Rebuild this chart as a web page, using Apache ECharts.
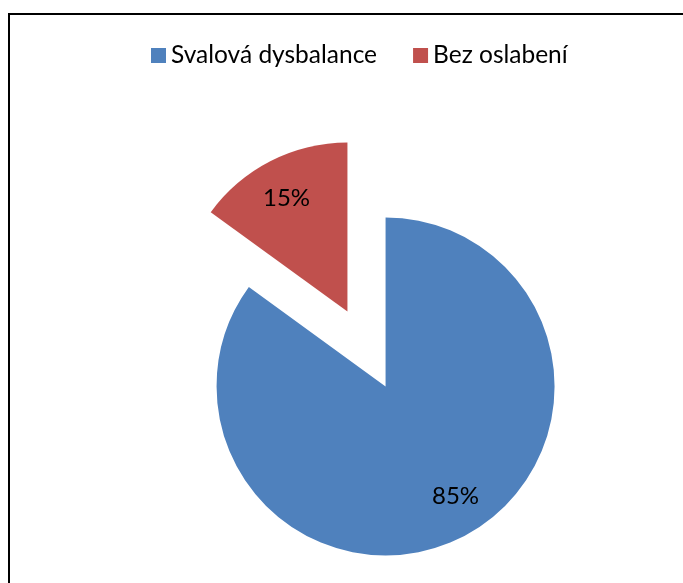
<!DOCTYPE html>
<html>
<head>
<meta charset="utf-8">
<script src="https://cdn.jsdelivr.net/npm/echarts@6/dist/echarts.min.js"></script>
<style>
html,body{margin:0;padding:0;background:#fff;}
#chart{width:683px;height:583px;}
</style>
</head>
<body>
<div id="chart"></div>
<script>
var categories = ['Svalová dysbalance', 'Bez oslabení'];
var values = [85, 15];
var colors = ['#4F81BD', '#C0504D'];

var FONT = 'Lato';
var labelNudge = [[10, -8], [-1, 4]];
var chart = echarts.init(document.getElementById('chart'), null, {renderer: 'canvas'});

function buildData(transparent) {
  return categories.map(function (c, i) {
    return {
      name: c,
      value: values[i],
      selected: true,
      itemStyle: {color: transparent ? 'rgba(0,0,0,0)' : colors[i]}
    };
  });
}

var option = {
  animation: false,
  color: colors,
  graphic: [{
    type: 'rect',
    silent: true,
    shape: {x: 9, y: 14, width: 700, height: 620},
    style: {fill: 'none', stroke: '#000', lineWidth: 2}
  }],
  legend: {
    data: categories,
    left: 146,
    top: 38,
    itemWidth: 15,
    itemHeight: 15,
    itemGap: 36,
    icon: 'rect',
    selectedMode: false,
    textStyle: {fontFamily: FONT, fontSize: 24.5, color: '#000'}
  },
  series: [{
    type: 'pie',
    center: [366.5, 349],
    radius: 169,
    startAngle: 90,
    clockwise: true,
    selectedMode: 'multiple',
    selectedOffset: 42,
    label: {show: false},
    labelLine: {show: false},
    emphasis: {disabled: true},
    data: buildData(false)
  }, {
    type: 'pie',
    silent: true,
    center: [366.5, 349],
    radius: 258,
    startAngle: 90,
    clockwise: true,
    selectedMode: 'multiple',
    selectedOffset: 42,
    legendHoverLink: false,
    label: {
      show: true,
      position: 'inside',
      formatter: function (p) { return p.value + '%'; },
      fontFamily: FONT,
      fontSize: 24,
      color: '#000'
    },
    labelLayout: function (params) {
      var n = labelNudge[params.dataIndex] || [0, 0];
      return {dx: n[0], dy: n[1]};
    },
    labelLine: {show: false},
    emphasis: {disabled: true},
    data: buildData(true)
  }]
};
chart.setOption(option);
</script>
</body>
</html>
